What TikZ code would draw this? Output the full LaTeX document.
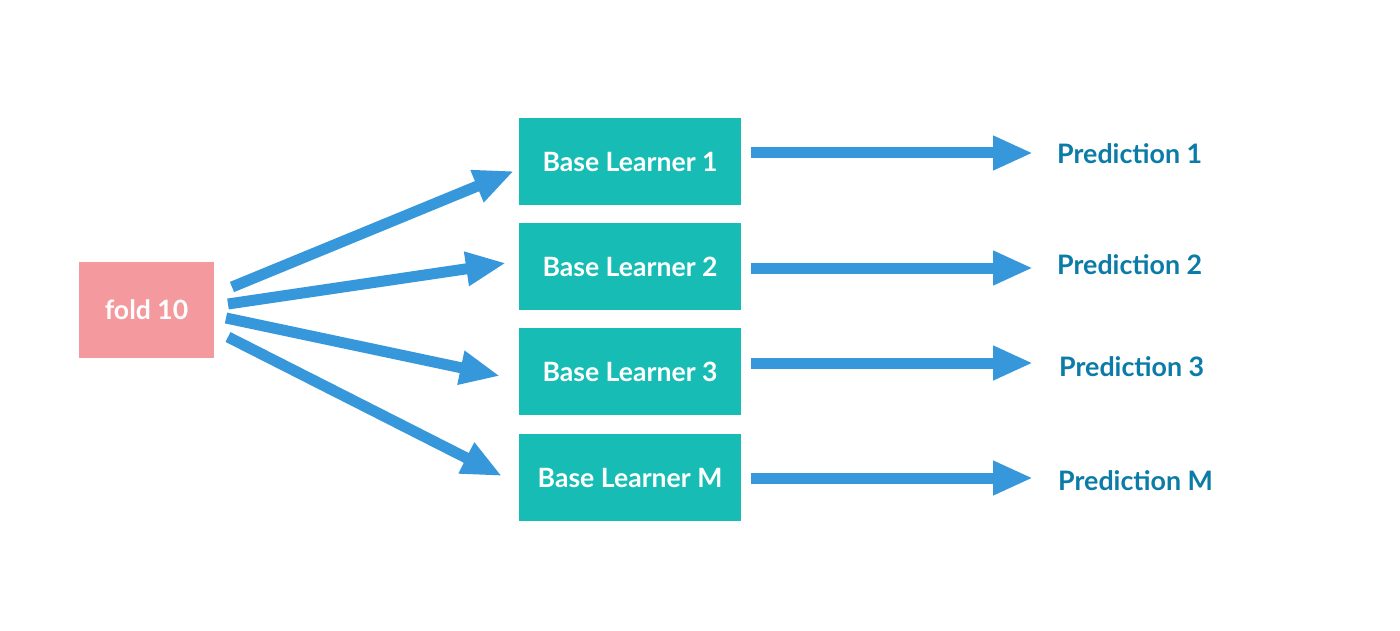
\documentclass[tikz,border=0pt]{standalone}
\usepackage{fontspec}
\setmainfont{Lato}
\usetikzlibrary{arrows.meta}
\definecolor{pinkbox}{HTML}{F49A9E}
\definecolor{tealbox}{HTML}{17BCB4}
\definecolor{arrowblue}{HTML}{3697DB}
\definecolor{predblue}{HTML}{0B7BA8}
\begin{document}
\begin{tikzpicture}[x=1pt,y=-1pt,
  box/.style={fill=tealbox, draw=none, minimum width=222pt, minimum height=87pt, inner sep=0pt, text=white, font=\bfseries\fontsize{26.6}{30}\selectfont},
  foldbox/.style={fill=pinkbox, draw=none, minimum width=135pt, minimum height=96pt, inner sep=0pt, text=white, font=\bfseries\fontsize{26.6}{30}\selectfont},
  pred/.style={anchor=west, inner sep=0pt, text=predblue, font=\bfseries\fontsize{26.8}{30}\selectfont},
  bigarrow/.style={draw=arrowblue, line width=11pt, -{Triangle[length=40pt,width=32pt]}}
]
\useasboundingbox (0,0) rectangle (1400,631);
\fill[white] (0,0) rectangle (1400,631);

\node[foldbox] (fold) at (146.5,310) {fold 10};

\node[box] (b1) at (630,161.5) {Base Learner 1};
\node[box] (b2) at (630,266.5) {Base Learner 2};
\node[box] (b3) at (630,371.5) {Base Learner 3};
\node[box] (b4) at (630,477.5) {Base Learner M};

\node[pred] (p1) at (1057,154) {Prediction 1};
\node[pred] (p2) at (1057,265) {Prediction 2};
\node[pred] (p3) at (1059,367) {Prediction 3};
\node[pred] (p4) at (1058,481) {Prediction M};

% left fan arrows
\coordinate (s1) at (232,287); \coordinate (t1) at (514,171);
\coordinate (s2) at (228,304); \coordinate (t2) at (506,263);
\coordinate (s3) at (226,318); \coordinate (t3) at (500,376);
\coordinate (s4) at (228,337); \coordinate (t4) at (502,476);
\draw[bigarrow] (s1) -- (t1);
\draw[bigarrow] (s2) -- (t2);
\draw[bigarrow] (s3) -- (t3);
\draw[bigarrow] (s4) -- (t4);

% right arrows
\coordinate (r1) at (751,153); \coordinate (q1) at (1033,153);
\coordinate (r2) at (751,268); \coordinate (q2) at (1033,268);
\coordinate (r3) at (751,363); \coordinate (q3) at (1033,363);
\coordinate (r4) at (751,478); \coordinate (q4) at (1033,478);
\draw[bigarrow] (r1) -- (q1);
\draw[bigarrow] (r2) -- (q2);
\draw[bigarrow] (r3) -- (q3);
\draw[bigarrow] (r4) -- (q4);
\end{tikzpicture}
\end{document}
